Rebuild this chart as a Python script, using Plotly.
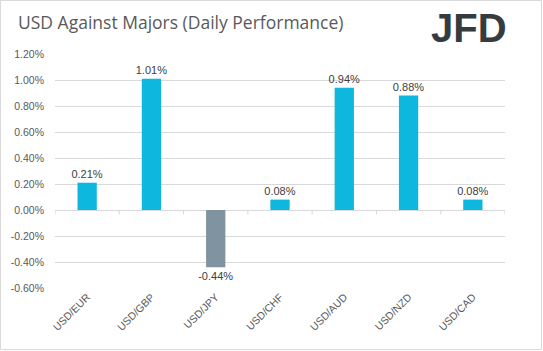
import plotly.graph_objects as go

categories = ["USD/EUR", "USD/GBP", "USD/JPY", "USD/CHF", "USD/AUD", "USD/NZD", "USD/CAD"]
values = [0.21, 1.01, -0.44, 0.08, 0.94, 0.88, 0.08]
tick_vals = [-0.6, -0.4, -0.2, 0.0, 0.2, 0.4, 0.6, 0.8, 1.0, 1.2]
tick_text = ["-0.60%", "-0.40%", "-0.20%", "0.00%", "0.20%", "0.40%", "0.60%", "0.80%", "1.00%", "1.20%"]

W, H = 543, 351
L, R, T, B = 55, 38, 54, 63

colors = ["#8093A0" if v < 0 else "#0DB7DE" for v in values]

fig = go.Figure(go.Bar(
    x=categories, y=values, marker=dict(color=colors, line=dict(width=0)),
    width=0.3,
    text=[f"{v:.2f}%" for v in values], textposition="outside",
    constraintext="none",
    textfont=dict(family="Liberation Sans, Arial", size=11, color="#404040"),
    cliponaxis=False,
))

pw = W - L - R
ph = H - T - B
shapes = []
# outer border
shapes.append(dict(type="rect", xref="paper", yref="paper",
                   x0=-L / pw + 0.5 / pw, x1=1 + (R - 1.5) / pw,
                   y0=-B / ph + 1.5 / ph, y1=1 + (T - 0.5) / ph,
                   line=dict(color="#D9D9D9", width=1), fillcolor="rgba(0,0,0,0)", layer="below"))
# category tick marks along zero line
for i in range(len(categories) + 1):
    shapes.append(dict(type="line", xref="x", yref="y", x0=i - 0.5, x1=i - 0.5,
                       y0=0, y1=-0.035, line=dict(color="#D9D9D9", width=1)))

fig.update_layout(
    width=W, height=H, margin=dict(l=L, r=R, t=T, b=B),
    paper_bgcolor="white", plot_bgcolor="white",
    showlegend=False, shapes=shapes,
    xaxis=dict(showgrid=False, showline=False, ticks="", tickangle=-45,
               tickfont=dict(family="Liberation Sans, Arial", size=10.5, color="#595959"),
               range=[-0.5, len(categories) - 0.5]),
    yaxis=dict(range=[-0.6, 1.2], tickmode="array", tickvals=tick_vals, ticktext=tick_text,
               showgrid=True, gridcolor="#D9D9D9", gridwidth=1, zeroline=True,
               zerolinecolor="#D9D9D9", zerolinewidth=1, showline=False, ticks="",
               ticklabelstandoff=10,
               tickfont=dict(family="Liberation Sans, Arial", size=10.5, color="#595959")),
    annotations=[
        dict(text="USD Against Majors (Daily Performance)", xref="paper", yref="paper",
             x=-(L - 16) / pw, y=1 + (T - 22) / ph, xanchor="left", yanchor="middle",
             showarrow=False, font=dict(family="Open Sans, Liberation Sans", size=17.5, color="#595959")),
        dict(text="<b>JFD</b>", xref="paper", yref="paper",
             x=1 + (R - 34) / pw, y=1 + (T - 28) / ph, xanchor="right", yanchor="middle",
             showarrow=False, font=dict(family="Liberation Sans Narrow, Liberation Sans", size=40, color="#363B40")),
    ],
)

fig.write_html("out.html")
